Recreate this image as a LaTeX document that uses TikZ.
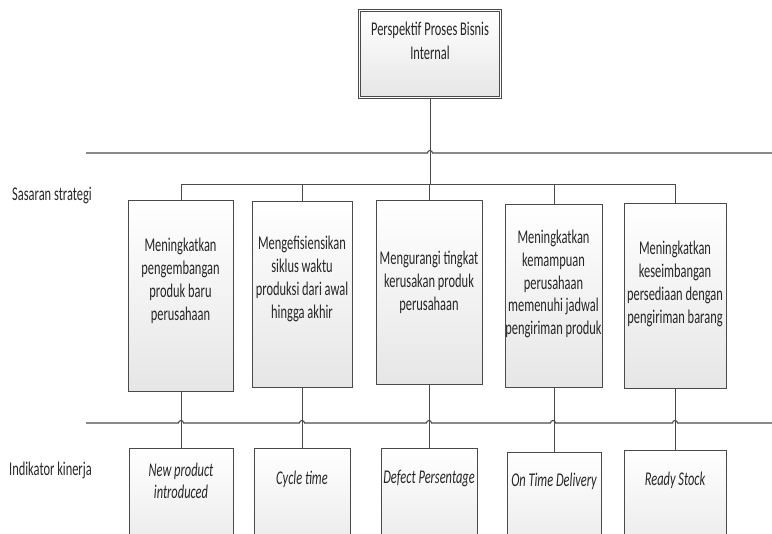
\documentclass[tikz,border=0pt]{standalone}
\usepackage{fontspec}
\usetikzlibrary{calc}
\setmainfont{Carlito}[FakeStretch=0.64]
\definecolor{edge}{HTML}{4A4A4A}
\definecolor{boxbot}{HTML}{E6E6E6}
\begin{document}
\begin{tikzpicture}[x=1bp,y=-1bp,
  box/.style={draw=edge,line width=0.9bp,rectangle,inner sep=0pt,top color=white,bottom color=boxbot,anchor=north west},
  txt/.style={align=center,font=\fontsize{19.5}{23}\selectfont,inner sep=0pt,text=black!85},
  itxt/.style={txt,font=\fontsize{19.5}{22}\selectfont\itshape},
  conn/.style={draw=edge,line width=0.9bp},
  bar/.style={draw=edge,line width=1.1bp}]
\useasboundingbox (0,0) rectangle (772,534);
\clip (0,0) rectangle (772,534);
% top box
\node[box,minimum width=141bp,minimum height=87bp,double=white,double distance=1.6bp] (top) at (359,10) {};
\node[txt,font=\fontsize{19.5}{24}\selectfont] (toptxt) at (430,41) {Perspektif Proses Bisnis\\Internal};
% upper boxes
\node[box,minimum width=105bp,minimum height=191bp] (b1) at (128,200) {};
\node[box,minimum width=100bp,minimum height=186bp] (b2) at (252,201) {};
\node[box,minimum width=106bp,minimum height=184bp] (b3) at (376,200) {};
\node[box,minimum width=97bp,minimum height=183bp] (b4) at (505,204) {};
\node[box,minimum width=102bp,minimum height=185bp] (b5) at (624,203) {};
\node[txt] (t1) at (180.5,281) {Meningkatkan\\pengembangan\\produk baru\\perusahaan};
\node[txt] (t2) at (302,279) {Mengefisiensikan\\siklus waktu\\produksi dari awal\\hingga akhir};
\node[txt] (t3) at (429,282) {Mengurangi tingkat\\kerusakan produk\\perusahaan};
\node[txt] (t4) at (553.5,284) {Meningkatkan\\kemampuan\\perusahaan\\memenuhi jadwal\\pengiriman produk};
\node[txt] (t5) at (675,284) {Meningkatkan\\keseimbangan\\persediaan dengan\\pengiriman barang};
% lower boxes
\node[box,minimum width=104bp,minimum height=120bp] (c1) at (129,448) {};
\node[box,minimum width=96bp,minimum height=120bp] (c2) at (254,448) {};
\node[box,minimum width=96bp,minimum height=120bp] (c3) at (381,448) {};
\node[box,minimum width=94bp,minimum height=120bp] (c4) at (507,452) {};
\node[box,minimum width=102bp,minimum height=120bp] (c5) at (624,450) {};
\node[itxt] (u1) at (181,481) {New product\\introduced};
\node[itxt] (u2) at (302,479) {Cycle time};
\node[itxt] (u3) at (429,479) {Defect Persentage};
\node[itxt] (u4) at (554,481) {On Time Delivery};
\node[itxt] (u5) at (675,480) {Ready Stock};
% row labels
\node[txt,anchor=west] (l1) at (12,195) {Sasaran strategi};
\node[txt,anchor=west] (l2) at (9,470) {Indikator kinerja};
% horizontal bars with hops
\coordinate (h1a) at (86,153);
\coordinate (h1b) at (772,153);
\coordinate (h2a) at (86,423);
\coordinate (h2b) at (772,423);
\draw[bar] (h1a) -- ($(top.south |- h1a)+(-2.5,0)$) arc (180:360:2.5) -- (h1b);
\draw[bar] (h2a) -- (178.5,423) arc (180:360:2.5) -- (299.5,423) arc (180:360:2.5)
  -- (426.5,423) arc (180:360:2.5) -- (550.5,423) arc (180:360:2.5)
  -- (672.5,423) arc (180:360:2.5) -- (h2b);
% bus
\coordinate (bus1) at (181,184);
\coordinate (bus5) at (675,184);
\draw[conn] (bus1) -- (bus5);
\draw[conn] (top.south) -- (top.south |- bus1);
\draw[conn] (bus1) -- (b1.north -| bus1);
\draw[conn] (b2.north |- bus1) -- (b2.north);
\draw[conn] (b3.north |- bus1) -- (b3.north);
\draw[conn] (b4.north |- bus1) -- (b4.north);
\draw[conn] (bus5) -- (b5.north -| bus5);
% vertical connectors
\draw[conn] (b1.south -| c1.north) -- (c1.north);
\draw[conn] (b2.south) -- (b2.south |- c2.north);
\draw[conn] (b3.south) -- (b3.south |- c3.north);
\draw[conn] (b4.south) -- (b4.south |- c4.north);
\draw[conn] (b5.south) -- (b5.south |- c5.north);
\end{tikzpicture}
\end{document}
